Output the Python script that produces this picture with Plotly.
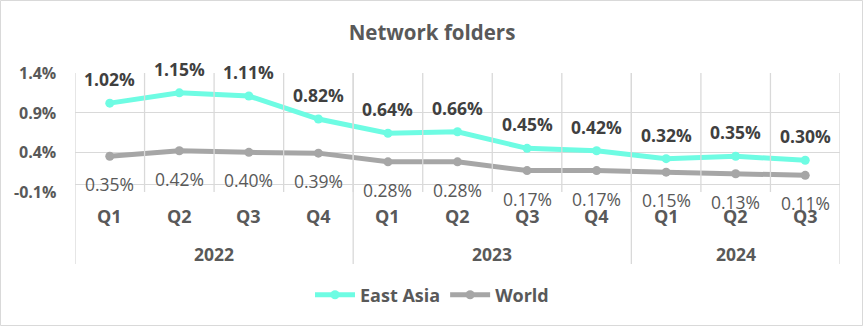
import plotly.graph_objects as go

quarters = ["Q1", "Q2", "Q3", "Q4", "Q1", "Q2", "Q3", "Q4", "Q1", "Q2", "Q3"]
years = ["2022", "2023", "2024"]
year_spans = [(0, 3), (4, 7), (8, 10)]
east_asia = [1.02, 1.15, 1.11, 0.82, 0.64, 0.66, 0.45, 0.42, 0.32, 0.35, 0.30]
world = [0.35, 0.42, 0.40, 0.39, 0.28, 0.28, 0.17, 0.17, 0.15, 0.13, 0.11]
y_ticks = [-0.1, 0.4, 0.9, 1.4]

FONT = "Open Sans"
TXT = "#595959"
GRID = "#d9d9d9"
EA_COLOR = "#6EFCE3"
W_COLOR = "#A6A6A6"

# plot area geometry (pixels)
W, H = 864, 327
L, R, T, B = 75, 840, 73, 192
pw, ph = R - L, B - T

def py(pix):  # pixel y -> paper y
    return (B - pix) / ph

def px(pix):
    return (pix - L) / pw

x = list(range(len(quarters)))

fig = go.Figure()
fig.add_trace(go.Scatter(x=x, y=east_asia, mode="lines+markers", name="East Asia",
                         line=dict(color=EA_COLOR, width=5),
                         marker=dict(size=9, color=EA_COLOR)))
fig.add_trace(go.Scatter(x=x, y=world, mode="lines+markers", name="World",
                         line=dict(color=W_COLOR, width=5),
                         marker=dict(size=9, color=W_COLOR)))

ann = []
shapes = []
for i, v in enumerate(east_asia):
    ann.append(dict(x=i, y=v, xref="x", yref="y", text=f"{v:.2f}%", showarrow=False,
                    yshift=24, font=dict(family=FONT, size=17.5, color="#404040", weight="bold")))
for i, v in enumerate(world):
    ann.append(dict(x=i, y=v, xref="x", yref="y", text=f"{v:.2f}%", showarrow=False,
                    yshift=-28, font=dict(family=FONT, size=17.5, color=TXT)))
for i, q in enumerate(quarters):
    ann.append(dict(x=i, y=py(216), xref="x", yref="paper", text=q, showarrow=False,
                    yanchor="middle", font=dict(family=FONT, size=18, color=TXT, weight="bold")))
for yr, (a, b) in zip(years, year_spans):
    ann.append(dict(x=(a + b) / 2, y=py(254), xref="x", yref="paper", text=yr, showarrow=False,
                    yanchor="middle", font=dict(family=FONT, size=17.5, color=TXT, weight="bold")))
for t in y_ticks:
    ann.append(dict(x=px(58), y=t, xref="paper", yref="y", text=f"{t:.1f}%", showarrow=False,
                    xanchor="right", yanchor="middle",
                    font=dict(family=FONT, size=16, color=TXT, weight="bold")))

# quarter dividers
for i in range(len(quarters) - 1):
    shapes.append(dict(type="line", xref="x", yref="paper", x0=i + 0.5, x1=i + 0.5,
                       y0=0, y1=1, line=dict(color=GRID, width=1.3)))
# year dividers
bounds = [year_spans[0][0] - 0.5] + [b + 0.5 for (_, b) in year_spans]
for bx in bounds:
    shapes.append(dict(type="line", xref="x", yref="paper", x0=bx, x1=bx,
                       y0=py(264), y1=1, line=dict(color=GRID, width=1.3)))
# outer chart border
shapes.append(dict(type="rect", xref="paper", yref="paper",
                   x0=px(0.5), x1=px(W - 1.5), y0=py(H - 1.5), y1=py(0.5),
                   line=dict(color=GRID, width=1)))

fig.update_layout(
    width=W, height=H,
    margin=dict(l=L, r=W - R, t=T, b=H - B),
    paper_bgcolor="white", plot_bgcolor="white",
    title=dict(text="<b>Network folders</b>", x=0.5, xanchor="center", y=1 - 33 / H,
               yanchor="middle", font=dict(family=FONT, size=20.5, color=TXT)),
    xaxis=dict(range=[-0.5, len(quarters) - 0.5], showgrid=False, zeroline=False,
               showticklabels=False, ticks="", showline=False, fixedrange=True),
    yaxis=dict(range=[-0.1, 1.4], tickvals=y_ticks, showticklabels=False,
               showgrid=True, gridcolor=GRID, gridwidth=1.3,
               zeroline=True, zerolinecolor=GRID, zerolinewidth=1.3, showline=False),
    showlegend=True,
    legend=dict(orientation="h", x=px(432), xanchor="center", y=py(295), yanchor="middle",
                font=dict(family=FONT, size=18, color=TXT, weight="bold"),
                itemwidth=40, tracegroupgap=0),
    annotations=ann, shapes=shapes,
)

fig.write_html("out.html")
